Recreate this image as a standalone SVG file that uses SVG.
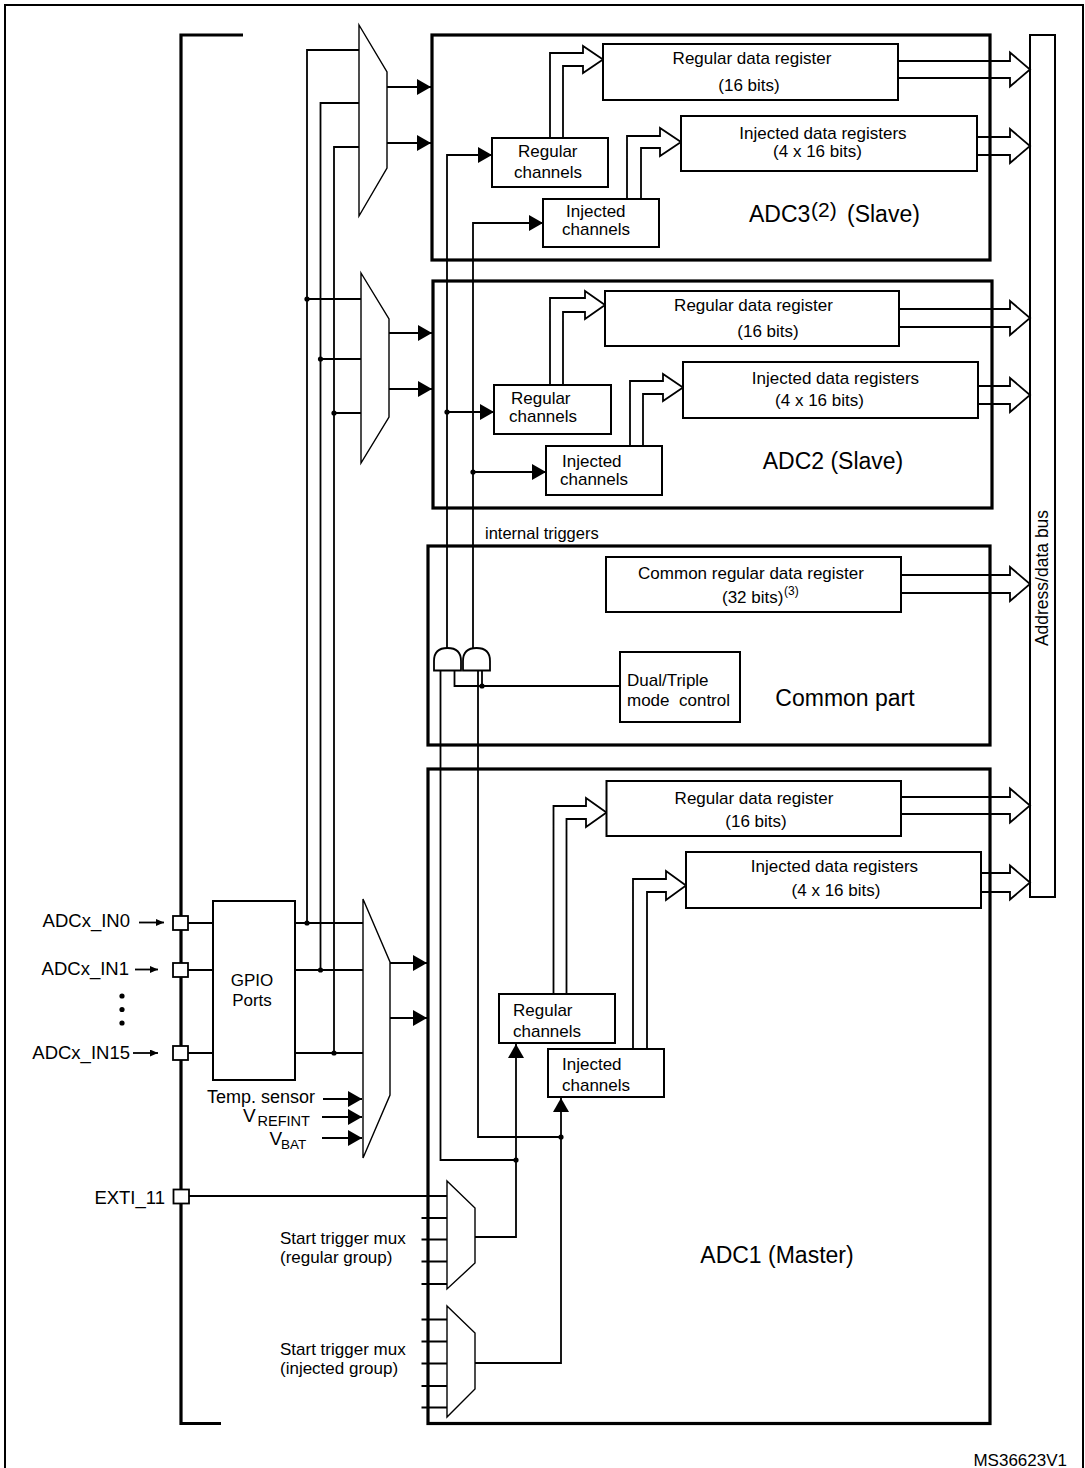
<svg xmlns="http://www.w3.org/2000/svg" width="1085" height="1468" viewBox="0 0 1085 1468">
<defs>
<style>
.t{font-family:"Liberation Sans",Arial,Helvetica,sans-serif;fill:#000}
.f17{font-size:17px}
.f23{font-size:23px}
.frame{fill:none;stroke:#000;stroke-width:2}
.blk{fill:none;stroke:#000;stroke-width:3.2}
.box{fill:#fff;stroke:#000;stroke-width:2}
.pin{fill:#fff;stroke:#000;stroke-width:1.8}
.ln{fill:none;stroke:#000;stroke-width:1.8}
.mux{fill:#fff;stroke:#000;stroke-width:1.4}
.gate{fill:#fff;stroke:#000;stroke-width:1.8}
.hol{fill:none;stroke:#000;stroke-width:1.8;stroke-linejoin:miter}
.arr{marker-end:url(#ah)}
.arrs{marker-end:url(#as)}
</style>
<marker id="ah" markerUnits="userSpaceOnUse" markerWidth="14" markerHeight="16" refX="14" refY="8" orient="auto"><path d="M0,0 L14,8 L0,16 Z" fill="#000"/></marker>
<marker id="as" markerUnits="userSpaceOnUse" markerWidth="8" markerHeight="7" refX="8" refY="3.5" orient="auto"><path d="M0,0 L8,3.5 L0,7 Z" fill="#000"/></marker>
</defs>
<rect width="1085" height="1468" fill="#fff"/>
<g id="frame">
<path class="frame" d="M5,1468 V5 H1083 V1468"/>
<path class="blk" d="M243,35 H181 V1423.5 H221"/>
</g>
<g id="adc3">
<rect class="blk" x="432" y="35" width="558" height="225"/>
<text class="t f23" y="222"><tspan x="749">ADC3</tspan><tspan x="811" y="217" font-size="21">(2)</tspan><tspan x="847" y="222">(Slave)</tspan></text>
</g>
<g id="adc2">
<rect class="blk" x="433" y="281" width="559" height="227"/>
<text class="t f23" x="833" y="468.5" text-anchor="middle">ADC2 (Slave)</text>
</g>
<g id="common">
<rect class="blk" x="428" y="546" width="562" height="199"/>
<text class="t f23" x="845" y="705.5" text-anchor="middle">Common part</text>
</g>
<g id="adc1">
<rect class="blk" x="428" y="769" width="562" height="654.5"/>
<text class="t f23" x="777" y="1263" text-anchor="middle">ADC1 (Master)</text>
</g>
<g id="bus">
<rect class="box" x="1030" y="35" width="25" height="862"/>
<text class="t" font-size="17.5" transform="translate(1048,578) rotate(-90)" text-anchor="middle">Address/data bus</text>
</g>
<g id="connectors">
<path class="ln" d="M359,50 H307 V923"/>
<path class="ln" d="M359,103 H320.5 V970"/>
<path class="ln" d="M359,147 H334 V1053"/>
<path class="ln" d="M307,299 H361 M320.5,359 H361 M334,413 H361"/>
<path class="ln" d="M295,923 H363 M295,970 H363 M295,1053 H363"/>
<path class="ln" d="M188,923 H213 M188,970 H213 M188,1053 H213"/>
<path class="ln arr" d="M387,87 H431"/>
<path class="ln arr" d="M387,143 H431"/>
<path class="ln arr" d="M389,333 H432"/>
<path class="ln arr" d="M389,389 H432"/>
<path class="ln arr" d="M390,963 H427"/>
<path class="ln arr" d="M390,1018 H427"/>
<path class="ln arr" d="M323,1099 H362"/>
<path class="ln arr" d="M322,1117 H362"/>
<path class="ln arr" d="M322,1138 H362"/>
<path class="ln arrs" d="M139,922.5 H164"/>
<path class="ln arrs" d="M135,969.5 H158"/>
<path class="ln arrs" d="M133,1053 H158"/>
<path class="ln arr" d="M447,648 V155 H492"/>
<path class="ln arr" d="M447,412 H494"/>
<path class="ln arr" d="M473,648 V223 H543"/>
<path class="ln arr" d="M473,472 H546"/>
<path class="ln" d="M440.5,670 V1160 H516"/>
<path class="ln" d="M454.5,670 V686 H620"/>
<path class="ln" d="M482,670 V686"/>
<path class="ln" d="M478,670 V1137 H561"/>
<path class="ln arr" d="M475,1237 H516 V1044"/>
<path class="ln arr" d="M475,1363 H561 V1098"/>
<path class="ln" d="M189,1196 H447"/>
<path class="ln" d="M421.5,1218 H447 M421.5,1239.5 H447 M421.5,1261.5 H447 M421.5,1284 H447"/>
<path class="ln" d="M421.5,1319.5 H447 M421.5,1341.5 H447 M421.5,1363.5 H447 M421.5,1386 H447 M421.5,1407.5 H447"/>
<path class="hol" d="M550,138 V53 H583 V46 L603,59.5 L583,73 V66 H563 V138"/>
<path class="hol" d="M627,199 V136 H660 V128 L681,142 L660,156 V148 H641 V199"/>
<path class="hol" d="M550,385 V298 H585 V291 L605,305 L585,319 V312 H563 V385"/>
<path class="hol" d="M630,446 V381 H663 V374 L683,387.5 L663,401 V394 H643 V446"/>
<path class="hol" d="M553.5,994 V806 H586 V798 L606.5,812.5 L586,827 V819 H566.5 V994"/>
<path class="hol" d="M633,1049 V879 H666 V871 L686,885.5 L666,900 V892 H647 V1049"/>
<path class="hol" d="M898,61 H1010 V52.5 L1030,69.5 L1010,86.5 V78 H898"/>
<path class="hol" d="M977,137 H1010 V129 L1030,146 L1010,163 V155 H977"/>
<path class="hol" d="M899,309 H1010 V301 L1030,318 L1010,335 V327 H899"/>
<path class="hol" d="M978,386 H1010 V378 L1030,395 L1010,412 V404 H978"/>
<path class="hol" d="M901,575 H1010 V567 L1030,584 L1010,601 V593 H901"/>
<path class="hol" d="M901,797 H1010 V788.5 L1030,805.5 L1010,822.5 V814 H901"/>
<path class="hol" d="M981,873 H1010 V865.5 L1030,882.5 L1010,899.5 V892 H981"/>
<g fill="#000">
<circle cx="307" cy="299" r="2.6"/><circle cx="320.5" cy="359" r="2.6"/><circle cx="334" cy="413" r="2.6"/>
<circle cx="307" cy="923" r="2.6"/><circle cx="320.5" cy="970" r="2.6"/><circle cx="334" cy="1053" r="2.6"/>
<circle cx="447" cy="412" r="2.6"/><circle cx="473" cy="472" r="2.6"/><circle cx="482" cy="686" r="2.6"/>
<circle cx="516" cy="1160" r="2.6"/><circle cx="561" cy="1137" r="2.6"/>
</g>
</g>
<g id="mux-adc3"><polygon class="mux" points="359,25 387,72 387,168 359,216"/></g>
<g id="mux-adc2"><polygon class="mux" points="361,273 389,319 389,417 361,463"/></g>
<g id="mux-adc1"><polygon class="mux" points="363,899 390,962 390,1095 363,1158"/></g>
<g id="mux-trig-reg"><polygon class="mux" points="447,1181 475,1208 475,1263 447,1289"/>
<text class="t f17" x="280" y="1244">Start trigger mux</text>
<text class="t f17" x="280" y="1263">(regular group)</text></g>
<g id="mux-trig-inj"><polygon class="mux" points="447,1306 475,1333 475,1389 447,1417"/>
<text class="t f17" x="280" y="1355">Start trigger mux</text>
<text class="t f17" x="280" y="1373.5">(injected group)</text></g>
<g id="and-gates">
<path class="gate" d="M434,670.5 V661 C434,651 440,648 447.5,648 C455,648 461,651 461,661 V670.5 Z"/>
<path class="gate" d="M463,670.5 V661 C463,651 469,648 476.5,648 C484,648 490,651 490,661 V670.5 Z"/>
</g>
<g id="adc3-regdata"><rect class="box" x="603" y="44" width="295" height="56"/>
<text class="t f17" x="752" y="64" text-anchor="middle">Regular data register</text>
<text class="t f17" x="749" y="91" text-anchor="middle">(16 bits)</text></g>
<g id="adc3-injdata"><rect class="box" x="681" y="116" width="296" height="55"/>
<text class="t f17" x="823" y="138.5" text-anchor="middle">Injected data registers</text>
<text class="t f17" x="817.5" y="157" text-anchor="middle">(4 x 16 bits)</text></g>
<g id="adc3-regch"><rect class="box" x="492" y="138" width="116" height="49"/>
<text class="t f17" x="518" y="157">Regular</text><text class="t f17" x="514" y="177.5">channels</text></g>
<g id="adc3-injch"><rect class="box" x="543" y="199" width="116" height="48"/>
<text class="t f17" x="566" y="217">Injected</text><text class="t f17" x="562" y="235">channels</text></g>
<g id="adc2-regdata"><rect class="box" x="605" y="291" width="294" height="55"/>
<text class="t f17" x="753.5" y="310.5" text-anchor="middle">Regular data register</text>
<text class="t f17" x="768" y="336.5" text-anchor="middle">(16 bits)</text></g>
<g id="adc2-injdata"><rect class="box" x="683" y="362" width="295" height="56"/>
<text class="t f17" x="835.5" y="384" text-anchor="middle">Injected data registers</text>
<text class="t f17" x="819.5" y="406" text-anchor="middle">(4 x 16 bits)</text></g>
<g id="adc2-regch"><rect class="box" x="494" y="385" width="117" height="49"/>
<text class="t f17" x="511" y="404">Regular</text><text class="t f17" x="509" y="422">channels</text></g>
<g id="adc2-injch"><rect class="box" x="546" y="446" width="116" height="49"/>
<text class="t f17" x="562" y="466.5">Injected</text><text class="t f17" x="560" y="485">channels</text></g>
<g id="common-regdata"><rect class="box" x="606" y="557" width="295" height="55"/>
<text class="t f17" x="751" y="579" text-anchor="middle">Common regular data register</text>
<text class="t f17" y="603"><tspan x="722">(32 bits)</tspan><tspan x="784" y="595" font-size="12">(3)</tspan></text></g>
<g id="dual-triple"><rect class="box" x="620" y="652" width="120" height="70"/>
<text class="t f17" x="627" y="686">Dual/Triple</text>
<text class="t f17" x="627" y="705.5" style="white-space:pre" xml:space="preserve">mode  control</text></g>
<g id="adc1-regdata"><rect class="box" x="606.5" y="781" width="294.5" height="55"/>
<text class="t f17" x="754" y="804" text-anchor="middle">Regular data register</text>
<text class="t f17" x="756" y="826.5" text-anchor="middle">(16 bits)</text></g>
<g id="adc1-injdata"><rect class="box" x="686" y="852" width="295" height="56"/>
<text class="t f17" x="834.5" y="872" text-anchor="middle">Injected data registers</text>
<text class="t f17" x="836" y="895.5" text-anchor="middle">(4 x 16 bits)</text></g>
<g id="adc1-regch"><rect class="box" x="499" y="994" width="116" height="49"/>
<text class="t f17" x="513" y="1016">Regular</text><text class="t f17" x="513" y="1036.5">channels</text></g>
<g id="adc1-injch"><rect class="box" x="548" y="1049" width="116" height="48"/>
<text class="t f17" x="562" y="1069.5">Injected</text><text class="t f17" x="562" y="1091">channels</text></g>
<g id="gpio"><rect class="box" x="213" y="901" width="82" height="179"/>
<text class="t f17" x="252" y="986" text-anchor="middle">GPIO</text>
<text class="t f17" x="252" y="1005.5" text-anchor="middle">Ports</text></g>
<g id="pins">
<rect class="pin" x="173" y="916" width="15" height="14"/>
<rect class="pin" x="173" y="963" width="15" height="14"/>
<rect class="pin" x="173" y="1046" width="15" height="14"/>
<rect class="pin" x="173.5" y="1189.5" width="15.5" height="14"/>
<text class="t" font-size="18.5" x="130" y="926.5" text-anchor="end">ADCx_IN0</text>
<text class="t" font-size="18.5" x="129" y="975" text-anchor="end">ADCx_IN1</text>
<text class="t" font-size="18.5" x="130" y="1058.5" text-anchor="end">ADCx_IN15</text>
<text class="t" font-size="18.5" x="165" y="1203.5" text-anchor="end">EXTI_11</text>
<g fill="#000"><circle cx="122" cy="996" r="2.6"/><circle cx="122" cy="1009.5" r="2.6"/><circle cx="122" cy="1023" r="2.6"/></g>
</g>
<g id="internal-inputs">
<text class="t" font-size="18" x="315" y="1103" text-anchor="end">Temp. sensor</text>
<text class="t" font-size="19" y="1122"><tspan x="243">V</tspan><tspan x="257.5" y="1126" font-size="14.5">REFINT</tspan></text>
<text class="t" font-size="19" y="1145"><tspan x="269.5">V</tspan><tspan x="281" y="1148.5" font-size="13.5">BAT</tspan></text>
</g>
<text class="t" font-size="16.5" x="485" y="539">internal triggers</text>
<text class="t f17" x="1067" y="1466" text-anchor="end">MS36623V1</text>
</svg>
